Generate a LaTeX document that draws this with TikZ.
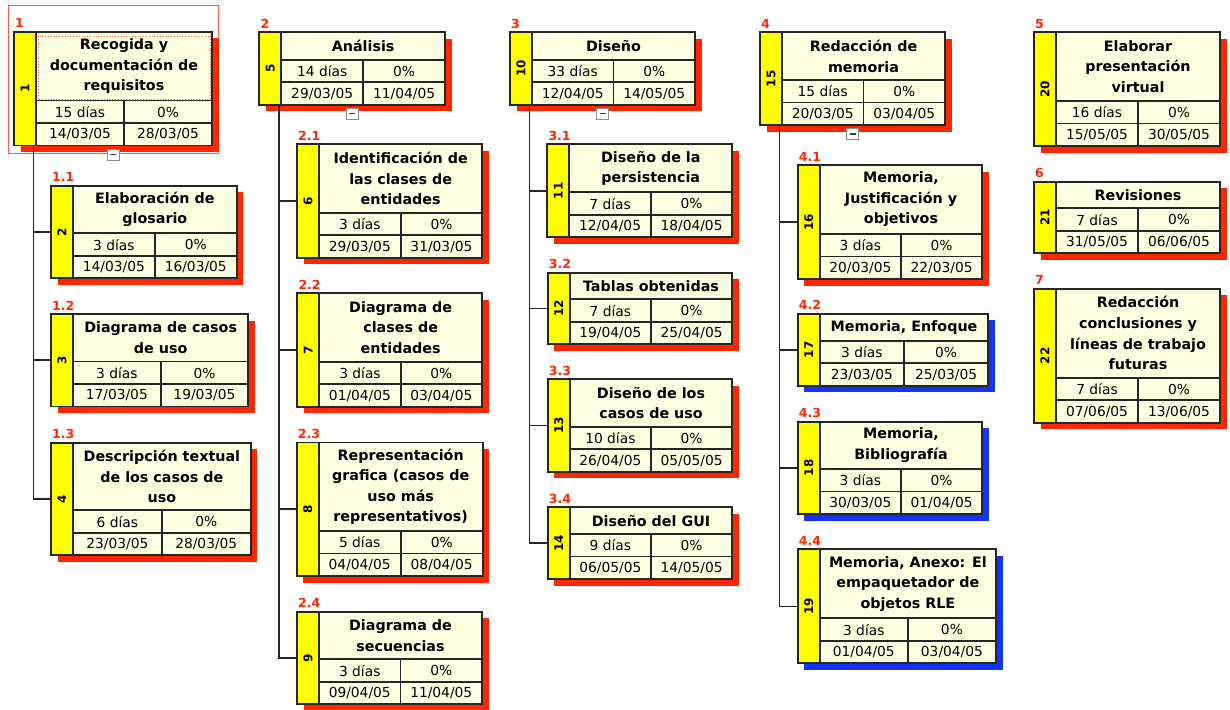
\documentclass[tikz,border=0pt]{standalone}
\usepackage{fontspec}
\setmainfont{DejaVu Sans}
\usepackage{tikz}
\usetikzlibrary{positioning}
\definecolor{cream}{HTML}{FFFFE1}
\definecolor{wbsyellow}{HTML}{FFFF00}
\definecolor{shred}{HTML}{FF2600}
\definecolor{shblue}{HTML}{1432FF}
\definecolor{selred}{HTML}{FF5A48}

\tikzset{
  wbsbox/.style={draw=black!85, line width=1.7pt, inner sep=0pt, outer sep=0pt, anchor=north west},
  boxline/.style={draw=black!85, line width=1.7pt},
  wbsline/.style={draw=black!85, line width=1.6pt},
  ttl/.style={font=\fontsize{14.3}{20.6}\selectfont\bfseries, align=center, inner sep=0pt},
  cell/.style={font=\fontsize{13.8}{16}\selectfont, inner sep=0pt},
  wbsnum/.style={font=\fontsize{12.5}{13}\selectfont\bfseries, text=shred, anchor=base west, inner sep=0pt},
  idnum/.style={font=\fontsize{12}{12}\selectfont\bfseries, rotate=90, inner sep=0pt},
  collapse/.style={draw=black!45, fill=white, line width=1pt, minimum width=12pt, minimum height=11pt, inner sep=0pt},
}

\begin{document}
\begin{tikzpicture}[x=1pt, y=-1pt]
  \useasboundingbox (0,0) rectangle (1230,709);
  % selected task
  \draw[selred, line width=1pt] (8,6) rectangle (218,153);
  % tasks: id / wbs code / left / top / right / title height / title / duration / start / end / shadow
  \foreach \id/\lab/\x/\y/\r/\h/\ttl/\dur/\sd/\ed/\sh in {
      1/1/14/32/212/68.5/{Recogida y\\documentación de\\requisitos}/15 días/{14/03/05}/{28/03/05}/shred,
      2/1.1/51/185.7/236.7/47.5/{Elaboración de\\glosario}/3 días/{14/03/05}/{16/03/05}/shred,
      3/1.2/51/314/248.3/47.5/{Diagrama de casos\\de uso}/3 días/{17/03/05}/{19/03/05}/shred,
      4/1.3/51/442.7/250.7/67.5/{Descripción textual\\de los casos de\\uso}/6 días/{23/03/05}/{28/03/05}/shred,
      5/2/259.3/32.3/445/27.5/{Análisis}/14 días/{29/03/05}/{11/04/05}/shred,
      6/2.1/297/144.3/482.3/68.5/{Identificación de\\las clases de\\entidades}/3 días/{29/03/05}/{31/03/05}/shred,
      7/2.2/297.3/293.3/482/68.5/{Diagrama de\\clases de\\entidades}/3 días/{01/04/05}/{03/04/05}/shred,
      8/2.3/296.7/442.5/482.7/88.5/{Representación\\grafica (casos de\\uso más\\representativos)}/5 días/{04/04/05}/{08/04/05}/shred,
      9/2.4/297/611.7/482/47.5/{Diagrama de\\secuencias}/3 días/{09/04/05}/{11/04/05}/shred,
      10/3/510/32.3/695/27.5/{Diseño}/33 días/{12/04/05}/{14/05/05}/shred,
      11/3.1/547.3/144.3/732.3/48/{Diseño de la\\persistencia}/7 días/{12/04/05}/{18/04/05}/shred,
      12/3.2/547.7/272.7/732.3/26.5/{Tablas obtenidas}/7 días/{19/04/05}/{25/04/05}/shred,
      13/3.3/547.7/379.3/732.3/47.5/{Diseño de los\\casos de uso}/10 días/{26/04/05}/{05/05/05}/shred,
      14/3.4/547.7/507.3/732.3/26.7/{Diseño del GUI}/9 días/{06/05/05}/{14/05/05}/shred,
      15/4/760/32.3/945/47.7/{Redacción de\\memoria}/15 días/{20/03/05}/{03/04/05}/shred,
      16/4.1/797.7/165/982.3/69/{Memoria,\\Justificación y\\objetivos}/3 días/{20/03/05}/{22/03/05}/shred,
      17/4.2/797.7/313.7/988.3/27/{Memoria, Enfoque}/3 días/{23/03/05}/{25/03/05}/shblue,
      18/4.3/797.7/421.7/982.3/47.3/{Memoria,\\Bibliografía}/3 días/{30/03/05}/{01/04/05}/shblue,
      19/4.4/797.7/549.3/996/69/{Memoria, Anexo: El\\empaquetador de\\objetos RLE}/3 días/{01/04/05}/{03/04/05}/shblue,
      20/5/1034/32.3/1220/68.7/{Elaborar\\presentación\\virtual}/16 días/{15/05/05}/{30/05/05}/shred,
      21/6/1034/181.7/1220/26.6/{Revisiones}/7 días/{31/05/05}/{06/06/05}/shred,
      22/7/1034/288.7/1220/89/{Redacción\\conclusiones y\\líneas de trabajo\\futuras}/7 días/{07/06/05}/{13/06/05}/shred}{
    \fill[\sh] (\x+6.5,\y+6.5) rectangle (\r+6.5,\y+\h+51.5);
    \node[wbsbox, fill=cream, minimum width=\r-\x, minimum height=\h+45] (t\id) at (\x,\y) {};
    \draw[boxline, fill=wbsyellow] (\x,\y) rectangle (\x+22,\y+\h+45);
    \draw[boxline] (\x+22,\y+\h) -- (\r,\y+\h);
    \draw[boxline] (\x+22,\y+\h+22.5) -- (\r,\y+\h+22.5);
    \draw[boxline] ({(\x+22+\r)/2},\y+\h) -- ({(\x+22+\r)/2},\y+\h+45);
    \node[ttl] (ttl\id) at ({(\x+22+\r)/2},\y+\h/2) {\ttl};
    \node[cell] (dur\id) at ({(\x+22)*0.75+\r*0.25},\y+\h+11.5) {\dur};
    \node[cell] (pct\id) at ({(\x+22)*0.25+\r*0.75},\y+\h+11.5) {0\%};
    \node[cell] (sd\id) at ({(\x+22)*0.75+\r*0.25},\y+\h+34) {\sd};
    \node[cell] (ed\id) at ({(\x+22)*0.25+\r*0.75},\y+\h+34) {\ed};
    \node[idnum] (num\id) at (\x+11,\y+\h/2+22.5) {\id};
    \node[wbsnum] (lab\id) at (\x+1,\y-4) {\lab};
  }
  % focus frame
  \draw[selred, dotted, line width=0.8pt] (38,36) rectangle (210,99);
  % tree lines
  \foreach \p/\c in {1/2,1/3,1/4,5/6,5/7,5/8,5/9,10/11,10/12,10/13,10/14,15/16,15/17,15/18,15/19}
    \draw[wbsline] ([xshift=19.5pt]t\p.south west) |- (t\c.west);
  % collapse buttons
  \foreach \p in {1,5,10,15}{
    \node[collapse, below=3pt of t\p] (c\p) {};
    \draw[black!75, line width=1.3pt] ([xshift=-3pt]c\p.center) -- ([xshift=3pt]c\p.center);
  }
\end{tikzpicture}
\end{document}
